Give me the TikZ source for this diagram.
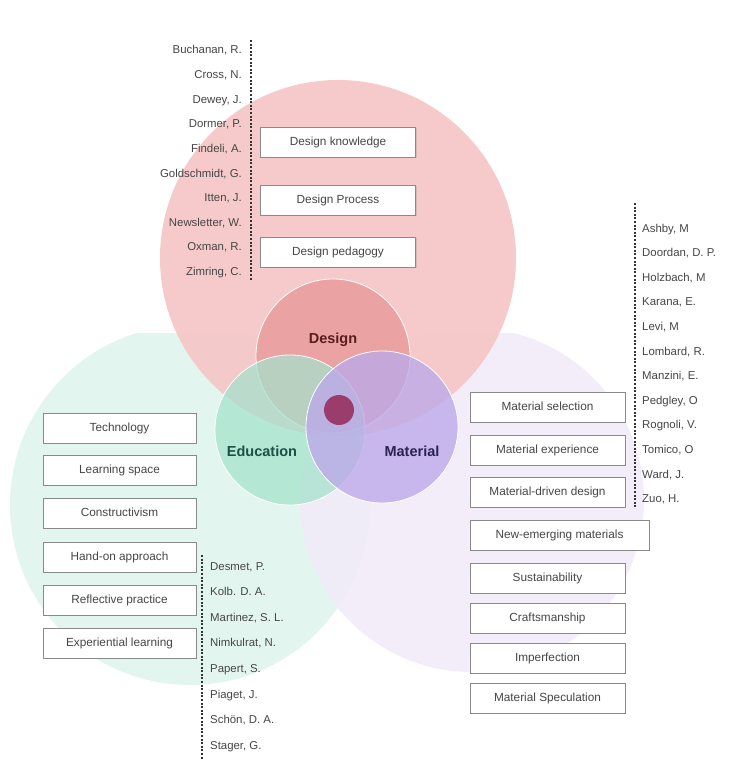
\documentclass[tikz,border=0pt]{standalone}
\usepackage{fontspec}
\setmainfont{Liberation Sans}
\usetikzlibrary{shadows}
\definecolor{txt}{HTML}{464646}
\definecolor{bggreen}{HTML}{E2F6EF}
\definecolor{bgpurple}{HTML}{F1ECF8}
\definecolor{bigpink}{HTML}{F6C6C6}
\definecolor{cdesign}{HTML}{EBA2A2}
\definecolor{ceduc}{HTML}{A4E2CC}
\definecolor{cmat}{HTML}{BCA9EA}
\definecolor{cdot}{HTML}{9A3D6C}
\definecolor{tdesign}{HTML}{5A1D1D}
\definecolor{teduc}{HTML}{1E4E46}
\definecolor{tmat}{HTML}{2A2352}
\definecolor{boxline}{HTML}{8A8A8A}
\tikzset{
  topicbox/.style={draw=boxline, line width=0.8pt, fill=white, minimum width=155pt, minimum height=30pt, inner sep=0pt,
    font=\fontsize{11.8}{14}\selectfont, text=txt, text height=8.6pt, text depth=2.4pt,
    drop shadow={opacity=0.25, shadow xshift=1pt, shadow yshift=-1.2pt}},
  namel/.style={anchor=east, inner sep=0pt, font=\fontsize{11.4}{14}\selectfont, text=txt, text height=8.2pt, text depth=2.2pt},
  namer/.style={anchor=west, inner sep=0pt, font=\fontsize{11.4}{14}\selectfont, text=txt, text height=8.2pt, text depth=2.2pt},
  dotline/.style={draw=black!80, line width=1.4pt, dash pattern=on 2pt off 1.6pt},
  biglabel/.style={inner sep=0pt, font=\fontsize{14.5}{17}\selectfont\bfseries}
}
\begin{document}
\begin{tikzpicture}[x=1pt,y=-1pt]
\useasboundingbox (0,0) rectangle (749,760);
\fill[white] (0,0) rectangle (749,760);

% large background circles
\begin{scope}
  \clip (0,333) rectangle (749,760);
  \fill[bggreen] (190,505) circle (180);
  \fill[bgpurple, fill opacity=0.9] (472,500) circle (172);
\end{scope}
\fill[bigpink, fill opacity=0.92] (338,258) circle (178);

% small Venn circles
\fill[cdesign, draw=white, line width=0.8pt] (333,356) circle (77);
\fill[ceduc, fill opacity=0.72] (290,430) circle (75);
\draw[white, line width=0.8pt] (290,430) circle (75);
\fill[cmat, fill opacity=0.78] (382,427) circle (76);
\draw[white, line width=0.8pt] (382,427) circle (76);
\fill[cdot] (339,410) circle (15);

\node[biglabel, text=tdesign] (lDesign) at (333,340) {Design};
\node[biglabel, text=teduc] (lEduc) at (262,451) {Education};
\node[biglabel, text=tmat] (lMat) at (412,451) {Material};

% Design topic boxes
\node[topicbox] (dk) at (338,142) {Design knowledge};
\node[topicbox] (dp) at (338,200) {Design Process};
\node[topicbox] (dg) at (338,252) {Design pedagogy};

% Design names
\coordinate (dtop) at (251,40);
\coordinate (dbot) at (251,280);
\draw[dotline] (dtop) -- (dbot);
\foreach \n [count=\i from 0] in {{Buchanan, R.},{Cross, N.},{Dewey, J.},{Dormer, P.},{Findeli, A.},{Goldschmidt, G.},{Itten, J.},{Newsletter, W.},{Oxman, R.},{Zimring, C.}}{
  \node[namel] (dn\i) at (242,{51+24.6*\i}) {\n};
}

% Material names
\coordinate (mtop) at (635,203);
\coordinate (mbot) at (635,508);
\draw[dotline] (mtop) -- (mbot);
\foreach \n [count=\i from 0] in {{Ashby, M},{Doordan, D. P.},{Holzbach, M},{Karana, E.},{Levi, M},{Lombard, R.},{Manzini, E.},{Pedgley, O},{Rognoli, V.},{Tomico, O},{Ward, J.},{Zuo, H.}}{
  \node[namer] (mn\i) at (642,{229+24.6*\i}) {\n};
}

% Education boxes
\node[topicbox, minimum width=153pt] (e1) at (119.5,428) {Technology};
\node[topicbox, minimum width=153pt] (e2) at (119.5,470) {Learning space};
\node[topicbox, minimum width=153pt] (e3) at (119.5,513) {Constructivism};
\node[topicbox, minimum width=153pt] (e4) at (119.5,557) {Hand-on approach};
\node[topicbox, minimum width=153pt] (e5) at (119.5,600) {Reflective practice};
\node[topicbox, minimum width=153pt] (e6) at (119.5,643) {Experiential learning};

% Education names
\coordinate (etop) at (202,555);
\coordinate (ebot) at (202,760);
\draw[dotline] (etop) -- (ebot);
\foreach \n [count=\i from 0] in {{Desmet, P.},{Kolb. D. A.},{Martinez, S. L.},{Nimkulrat, N.},{Papert, S.},{Piaget, J.},{Schön, D. A.},{Stager, G.}}{
  \node[namer] (en\i) at (210,{567+25.6*\i}) {\n};
}

% Material boxes
\node[topicbox] (m1) at (547.5,407) {Material selection};
\node[topicbox] (m2) at (547.5,450) {Material experience};
\node[topicbox] (m3) at (547.5,492) {Material-driven design};
\node[topicbox, minimum width=179pt] (m4) at (559.5,535) {New-emerging materials};
\node[topicbox] (m5) at (547.5,578) {Sustainability};
\node[topicbox] (m6) at (547.5,618) {Craftsmanship};
\node[topicbox] (m7) at (547.5,658) {Imperfection};
\node[topicbox] (m8) at (547.5,698) {Material Speculation};
\end{tikzpicture}
\end{document}
